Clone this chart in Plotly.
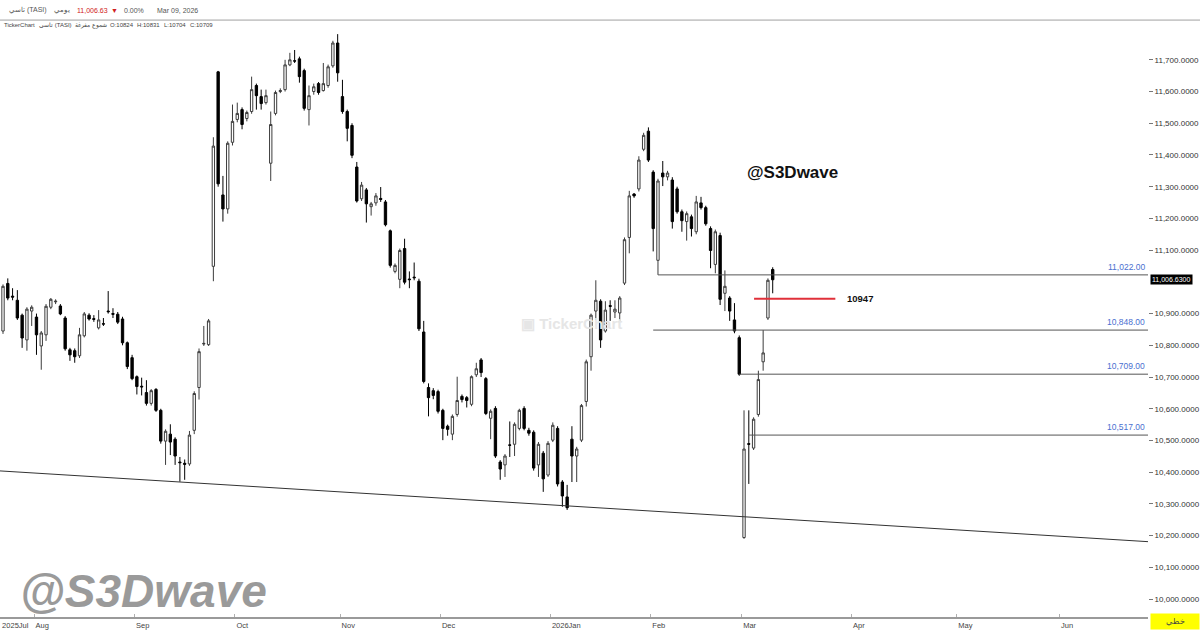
import plotly.graph_objects as go

# ---------------- data ----------------
OPEN = [10845, 10995, 10955, 10942, 10895, 10817, 10908, 10889, 10798, 10833,
        10920, 10937, 10924, 10886, 10786, 10783, 10767, 10830, 10895, 10884,
        10855, 10868, 10908, 10900, 10898, 10883, 10808, 10761, 10701, 10671,
        10651, 10617, 10661, 10595, 10498, 10520, 10504, 10432, 10428, 10426,
        10532, 10667, 10804, 10802, 11049, 11662, 11274, 11230, 11440, 11512,
        11543, 11515, 11537, 11619, 11584, 11565, 11374, 11531, 11600, 11606,
        11684, 11697, 11703, 11666, 11543, 11600, 11625, 11603, 11619, 11681,
        11753, 11584, 11537, 11493, 11362, 11262, 11290, 11237, 11249, 11263,
        11252, 11161, 11033, 11008, 11105, 11009, 11015, 11002, 10842, 10667,
        10657, 10654, 10595, 10545, 10520, 10582, 10639, 10635, 10614, 10707,
        10754, 10695, 10570, 10601, 10432, 10423, 10486, 10488, 10538, 10601,
        10532, 10526, 10423, 10460, 10391, 10501, 10538, 10369, 10322, 10504,
        10451, 10501, 10623, 10764, 10908, 10939, 10845, 10925, 10905, 10902,
        10996, 11140, 11277, 11293, 11418, 11475, 11346, 11068, 11343, 11331,
        11321, 11293, 11221, 11190, 11205, 11158, 11249, 11234, 11168, 11055,
        11146, 10964, 10949, 10880, 10824, 10194, 10490, 10476, 10582, 10748,
        10886, 11039]
HIGH = [10992, 11011, 10980, 10974, 10900, 10920, 10926, 10900, 10845, 10930,
        10949, 10945, 10930, 10892, 10792, 10790, 10855, 10905, 10901, 10895,
        10911, 10886, 10971, 10917, 10905, 10890, 10812, 10770, 10705, 10698,
        10690, 10662, 10665, 10600, 10535, 10551, 10510, 10448, 10440, 10530,
        10655, 10790, 10861, 10883, 11456, 11665, 11334, 11443, 11559, 11565,
        11550, 11540, 11647, 11625, 11606, 11606, 11537, 11603, 11610, 11700,
        11722, 11731, 11710, 11672, 11619, 11625, 11630, 11690, 11685, 11760,
        11781, 11637, 11543, 11500, 11378, 11315, 11296, 11252, 11280, 11299,
        11258, 11165, 11058, 11105, 11136, 11033, 11061, 11010, 10877, 10680,
        10665, 10660, 10600, 10550, 10582, 10701, 10645, 10640, 10705, 10745,
        10760, 10700, 10598, 10608, 10438, 10457, 10560, 10557, 10600, 10608,
        10540, 10532, 10495, 10467, 10498, 10557, 10545, 10375, 10360, 10545,
        10480, 10615, 10755, 10900, 11005, 10945, 10939, 10942, 10942, 10955,
        11140, 11287, 11280, 11396, 11470, 11487, 11352, 11325, 11381, 11350,
        11330, 11300, 11228, 11222, 11212, 11271, 11268, 11240, 11175, 11165,
        11155, 11036, 10955, 10933, 10831, 10595, 10595, 10573, 10720, 10848,
        11011, 11046]
LOW = [10836, 10942, 10942, 10880, 10792, 10783, 10861, 10770, 10723, 10814,
       10914, 10930, 10895, 10783, 10751, 10745, 10760, 10825, 10878, 10874,
       10850, 10861, 10900, 10886, 10867, 10800, 10725, 10690, 10645, 10642,
       10610, 10610, 10590, 10490, 10423, 10454, 10423, 10370, 10376, 10420,
       10520, 10629, 10798, 10798, 11002, 11300, 11190, 11215, 11430, 11503,
       11481, 11506, 11530, 11543, 11543, 11559, 11318, 11525, 11595, 11600,
       11680, 11690, 11628, 11540, 11493, 11590, 11590, 11600, 11612, 11675,
       11631, 11530, 11443, 11390, 11250, 11255, 11187, 11209, 11240, 11252,
       11175, 11045, 11027, 10980, 10992, 10980, 11005, 10845, 10680, 10576,
       10630, 10585, 10501, 10515, 10501, 10575, 10620, 10604, 10608, 10700,
       10700, 10580, 10504, 10445, 10376, 10385, 10448, 10451, 10532, 10532,
       10515, 10405, 10385, 10338, 10385, 10495, 10355, 10291, 10281, 10369,
       10369, 10495, 10607, 10720, 10880, 10792, 10840, 10877, 10886, 10877,
       10990, 11090, 11265, 11285, 11412, 11378, 11096, 11022, 11302, 11320,
       11168, 11215, 11158, 11130, 11143, 11150, 11228, 11177, 11043, 11027,
       10927, 10908, 10877, 10838, 10704, 10190, 10363, 10470, 10575, 10720,
       10880, 10964]
CLOSE = [10986, 10949, 10952, 10886, 10823, 10914, 10920, 10833, 10839, 10923,
         10945, 10939, 10899, 10789, 10770, 10764, 10833, 10899, 10883, 10882,
         10880, 10867, 10906, 10898, 10873, 10808, 10733, 10695, 10670, 10669,
         10617, 10657, 10595, 10498, 10529, 10495, 10451, 10430, 10425, 10517,
         10648, 10780, 10806, 10877, 11428, 11309, 11230, 11437, 11506, 11531,
         11496, 11534, 11606, 11587, 11562, 11587, 11496, 11597, 11603, 11684,
         11700, 11696, 11647, 11547, 11587, 11615, 11597, 11625, 11678, 11753,
         11659, 11537, 11484, 11399, 11255, 11305, 11246, 11246, 11271, 11260,
         11180, 11052, 11052, 11099, 10999, 11007, 11013, 10852, 10686, 10635,
         10642, 10592, 10538, 10535, 10576, 10626, 10629, 10626, 10701, 10726,
         10714, 10585, 10592, 10451, 10410, 10451, 10485, 10551, 10595, 10538,
         10523, 10413, 10488, 10379, 10491, 10548, 10363, 10325, 10288, 10451,
         10473, 10610, 10748, 10895, 10942, 10817, 10911, 10923, 10914, 10949,
         11133, 11271, 11271, 11384, 11462, 11384, 11168, 11318, 11331, 11343,
         11190, 11221, 11193, 11215, 11168, 11252, 11234, 11183, 11099, 11158,
         10945, 10986, 10908, 10845, 10709, 10473, 10488, 10567, 10692, 10776,
         11005, 11006.63]
BARS = list(range(len(CLOSE)))  # trading-day index, 2025-07-23 .. 2026-03-09

MONTH_LABELS = ["2025Jul", "Aug", "Sep", "Oct", "Nov", "Dec", "2026Jan",
                "Feb", "Mar", "Apr", "May", "Jun"]
MONTH_START_BAR = [-0.5, 6.5, 27.5, 48.5, 70.5, 91.5, 114.5, 135.5, 154.5,
                   177.5, 199.5, 221]

# 11,000 is hidden behind the last-price box in the reference
PRICE_TICKS = [10000, 10100, 10200, 10300, 10400, 10500, 10600, 10700, 10800,
               10900, 11100, 11200, 11300, 11400, 11500, 11600, 11700]
PRICE_TICK_TEXT = [f"{v:,.4f}" for v in PRICE_TICKS]

LEVELS = [11022, 10848, 10709, 10517]
LEVEL_START_BAR = [137, 136, 154, 156]
TARGET = 10947
TARGET_BARS = [157.1, 174.1]
TREND_BARS = [-0.63, 239.5]
TREND_PRICES = [10404, 10181]
LAST_PRICE = 11006.63

X_RANGE = [-0.63, 239.5]
Y_RANGE = [9943.5, 11787.7]

FONT = "Liberation Sans, Arial, sans-serif"

fig = go.Figure()
fig.add_trace(go.Candlestick(
    x=BARS, open=OPEN, high=HIGH, low=LOW, close=CLOSE,
    increasing=dict(line=dict(color="#3c3c3c", width=1), fillcolor="#ffffff"),
    decreasing=dict(line=dict(color="#000000", width=1), fillcolor="#000000"),
    whiskerwidth=0, showlegend=False, hoverinfo="skip",
))

shapes = []
shapes.append(dict(type="line", xref="x", yref="y",
                   x0=TREND_BARS[0], y0=TREND_PRICES[0],
                   x1=TREND_BARS[1], y1=TREND_PRICES[1],
                   line=dict(color="#333333", width=1)))
for lv, sb in zip(LEVELS, LEVEL_START_BAR):
    shapes.append(dict(type="line", xref="x", yref="y", x0=sb, x1=X_RANGE[1],
                       y0=lv, y1=lv, line=dict(color="#555555", width=1)))
shapes.append(dict(type="line", xref="x", yref="y", x0=TARGET_BARS[0],
                   x1=TARGET_BARS[1], y0=TARGET, y1=TARGET,
                   line=dict(color="#e0303a", width=2)))
shapes.append(dict(type="line", xref="paper", yref="paper", x0=0, x1=1.05,
                   y0=1.0204, y1=1.0204, line=dict(color="#a0a0a0", width=1)))

ann = []
for lv in LEVELS:
    ann.append(dict(xref="paper", yref="y", x=0.999, y=lv, xanchor="right",
                    yanchor="bottom", yshift=1, showarrow=False,
                    text=f"{lv:,.2f}", font=dict(family=FONT, size=8.5, color="#4a6fd0")))
ann.append(dict(xref="x", yref="y", x=176.2, y=TARGET, xanchor="left",
                yanchor="middle", showarrow=False, text="<b>10947</b>",
                font=dict(family=FONT, size=9.5, color="#111111")))
ann.append(dict(xref="paper", yref="y", x=1.0, y=LAST_PRICE, xanchor="left",
                yanchor="middle", xshift=2, showarrow=False,
                text=f"{LAST_PRICE:,.4f}", bgcolor="#000000", borderpad=1,
                font=dict(family=FONT, size=7, color="#ffffff")))
ann.append(dict(xref="paper", yref="paper", x=1.0, y=0.0, xanchor="left",
                yanchor="middle", xshift=2, yshift=-4, showarrow=False, text="خطي",
                bgcolor="#ffff00", width=46, height=13,
                font=dict(family=FONT, size=8, color="#444444")))
ann.append(dict(xref="x", yref="y", x=119, y=10870, xanchor="center",
                yanchor="middle", showarrow=False, text="<b>▣ TickerChart</b>",
                font=dict(family=FONT, size=15, color="#e6e6e6")))
ann.append(dict(xref="x", yref="y", x=155.2, y=11346, xanchor="left",
                yanchor="middle", showarrow=False, text="<b>@S3Dwave</b>",
                font=dict(family=FONT, size=17, color="#111111")))
ann.append(dict(xref="x", yref="y", x=3.1, y=10025, xanchor="left",
                yanchor="middle", showarrow=False, text="<b><i>@S3Dwave</i></b>",
                font=dict(family=FONT, size=46, color="#9a9a9a")))


def hdr(xpx, ypaper, text, color="#555555", size=7):
    ann.append(dict(xref="paper", yref="paper", x=xpx / 1148, y=ypaper,
                    xanchor="left", yanchor="middle", showarrow=False,
                    text=text, font=dict(family=FONT, size=size, color=color)))


hdr(7, 1.0374, "تاسي (TASI)")
hdr(52, 1.0374, "يومي")
hdr(75, 1.0374, "11,006.63", "#d02020")
hdr(109, 1.0374, "▼", "#d02020")
hdr(122, 1.0374, "0.00%")
hdr(155, 1.0374, "Mar 09, 2026")
hdr(2, 1.0119, "TickerChart", "#444444", 6)
hdr(37, 1.0119, "تاسي (TASI)", "#444444", 6)
hdr(73, 1.0119, "شموع مفرغة", "#444444", 6)
hdr(108, 1.0119, "O:10824", "#444444", 6)
hdr(135, 1.0119, "H:10831", "#444444", 6)
hdr(162, 1.0119, "L:10704", "#444444", 6)
hdr(188, 1.0119, "C:10709", "#444444", 6)

fig.update_layout(
    width=1200, height=630,
    margin=dict(l=0, r=52, t=32, b=9),
    paper_bgcolor="#ffffff", plot_bgcolor="#ffffff",
    showlegend=False, shapes=shapes, annotations=ann,
    font=dict(family=FONT),
    xaxis=dict(range=X_RANGE, rangeslider=dict(visible=False),
               showgrid=False, zeroline=False, showline=True,
               linecolor="#9a9a9a", linewidth=2,
               tickvals=MONTH_START_BAR, ticktext=MONTH_LABELS,
               ticks="inside", ticklen=3, tickcolor="#b0b0b0",
               ticklabelposition="outside right",
               tickfont=dict(family=FONT, size=7.5, color="#444444")),
    yaxis=dict(range=Y_RANGE, side="right", showgrid=False, zeroline=False,
               showline=False, tickvals=PRICE_TICKS, ticktext=PRICE_TICK_TEXT,
               ticks="outside", ticklen=4, tickcolor="#777777",
               tickfont=dict(family=FONT, size=8, color="#333333")),
)

fig.write_html("out.html", config={"displayModeBar": False},
               post_script="document.body.style.margin='0';")
